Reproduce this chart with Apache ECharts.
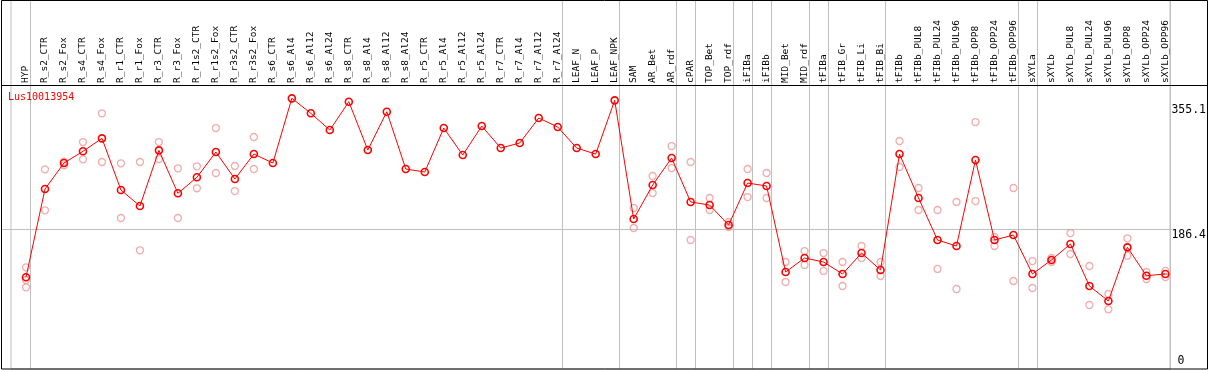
<!DOCTYPE html>
<html><head><meta charset="utf-8">
<script src="https://cdn.jsdelivr.net/npm/echarts@6/dist/echarts.min.js"></script>
<style>html,body{margin:0;padding:0;background:#fff}#c{width:1209px;height:370px}</style>
</head><body><div id="c"></div>
<script>
const geneName = 'Lus10013954';
const categories = ['HYP','R_s2_CTR','R_s2_Fox','R_s4_CTR','R_s4_Fox','R_r1_CTR','R_r1_Fox','R_r3_CTR','R_r3_Fox','R_r1s2_CTR','R_r1s2_Fox','R_r3s2_CTR','R_r3s2_Fox','R_s6_CTR','R_s6_Al4','R_s6_Al12','R_s6_Al24','R_s8_CTR','R_s8_Al4','R_s8_Al12','R_s8_Al24','R_r5_CTR','R_r5_Al4','R_r5_Al12','R_r5_Al24','R_r7_CTR','R_r7_Al4','R_r7_Al12','R_r7_Al24','LEAF_N','LEAF_P','LEAF_NPK','SAM','AR_Bet','AR_rdf','cPAR','TOP_Bet','TOP_rdf','iFIBa','iFIBb','MID_Bet','MID_rdf','tFIBa','tFIB_Gr','tFIB_Li','tFIB_Bi','tFIBb','tFIBb_PUL8','tFIBb_PUL24','tFIBb_PUL96','tFIBb_OPP8','tFIBb_OPP24','tFIBb_OPP96','sXYLa','sXYLb','sXYLb_PUL8','sXYLb_PUL24','sXYLb_PUL96','sXYLb_OPP8','sXYLb_OPP24','sXYLb_OPP96'];
const groupSizes = [1, 28, 3, 3, 1, 2, 1, 1, 2, 1, 3, 7, 1, 7];
const meanValues = [121.1,240.2,275.3,291.1,308.6,238.9,217.3,292.4,234.4,256.0,290.1,253.7,287.4,275.3,362.6,342.4,319.8,358.0,292.8,344.5,267.2,263.2,322.5,286.1,325.2,295.5,302.3,336.0,323.9,295.5,287.4,359.9,199.7,245.6,282.1,222.7,218.6,191.6,248.3,244.3,128.2,147.1,141.7,125.5,153.8,130.9,287.4,228.1,171.4,163.3,279.4,171.4,178.1,125.5,144.4,166.0,109.3,89.1,161.5,123.2,125.5];
const replicateValues = [
  [134.5,117.4,107.6],[266.8,211.5],[277.1,272.2],[303.6,280.3],[342.4,276.7],
  [274.9,201.1],[276.7,157.5],[303.6,280.7],[268.2,201.1],[270.9,241.2],
  [322.5,261.8],[271.3,237.5],[310.4,267.2],[],[],[],[],[],[],[],[],[],[],[],[],[],[],[],[],[],[],[],
  [214.6,187.6],[257.8,234.8],[298.2,268.5],[276.7,171.4],[228.1,211.9],[195.7,188.9],
  [267.2,229.4],[261.8,228.1],[141.7,114.7],[156.5,137.7],[153.8,129.6],[141.7,109.3],
  [163.3,147.1],[141.7,122.8],[305.0,269.9],[241.6,211.9],[211.9,132.3],[222.7,105.3],
  [330.6,224.0],[175.4,163.3],[241.6,116.1],[143.0,106.6],[147.1,141.7],[180.8,152.5],
  [136.3,83.7],[98.5,77.9],[173.7,150.2],[128.2,118.8],[129.6,121.5]
];
const yLabelValues = [186.4, 355.1];
const yZeroLabel = [0];
const yRefLine = [186.4];
const yMin = -2.7, yMax = 380.6;

const groupStarts = [];
groupSizes.reduce((acc, n) => { groupStarts.push(acc); return acc + n; }, 0);

const repData = [];
replicateValues.forEach((vals, i) => vals.forEach(v => repData.push([categories[i], v])));

const mono = 'DejaVu Sans Mono';
const chart = echarts.init(document.getElementById('c'), null, {renderer: 'canvas'});
chart.setOption({
  animation: false,
  backgroundColor: '#fff',
  title: {
    text: geneName, left: 8, top: 92, padding: 0,
    textStyle: {color: '#ff0000', fontSize: 10, fontFamily: mono, fontWeight: 'normal'}
  },
  grid: [
    {left: 11, top: 0, width: 1159, height: 369, show: true, borderColor: '#c0c0c0', borderWidth: 1, backgroundColor: 'transparent'},
    {left: 16.5, top: 85, width: 1159, height: 284},
    {left: 1, top: 85, width: 1171, height: 284}
  ],
  xAxis: [
    {gridIndex: 0, type: 'category', data: categories, boundaryGap: true,
     axisLine: {show: false}, axisTick: {show: false}, axisLabel: {show: false},
     splitLine: {show: true, interval: (i) => groupStarts.indexOf(i) > 0, lineStyle: {color: '#c0c0c0', width: 1}}},
    {gridIndex: 1, type: 'category', position: 'top', data: categories, boundaryGap: true,
     axisLine: {show: false}, axisTick: {show: false}, splitLine: {show: false},
     axisLabel: {interval: 0, rotate: 90, margin: 2, fontFamily: mono, fontSize: 9.5, color: '#000'}},
    {gridIndex: 2, type: 'value', show: false, min: 0, max: 1}
  ],
  yAxis: [
    {gridIndex: 0, type: 'value', show: false},
    {gridIndex: 1, type: 'value', position: 'right', min: yMin, max: yMax,
     axisLine: {show: false}, splitLine: {show: false},
     axisTick: {show: false, customValues: yLabelValues},
     axisLabel: {customValues: yLabelValues, verticalAlign: 'top', align: 'left', margin: -3.5,
       fontFamily: mono, fontSize: 11.5, color: '#000'}},
    {gridIndex: 1, type: 'value', position: 'right', min: yMin, max: yMax,
     axisLine: {show: false}, splitLine: {show: false},
     axisTick: {show: false, customValues: yZeroLabel},
     axisLabel: {customValues: yZeroLabel, verticalAlign: 'bottom', align: 'left', margin: 2.5,
       fontFamily: mono, fontSize: 11.5, color: '#000'}},
    {gridIndex: 2, type: 'value', min: yMin, max: yMax,
     axisLine: {show: false}, axisLabel: {show: false},
     axisTick: {show: false, customValues: yRefLine},
     splitLine: {show: true, lineStyle: {color: '#c0c0c0', width: 1}}}
  ],
  series: [
    {name: geneName + ' replicates', type: 'scatter', xAxisIndex: 1, yAxisIndex: 1, data: repData,
     symbol: 'circle', symbolSize: 7, z: 3,
     itemStyle: {color: 'transparent', borderColor: '#ec9898', borderWidth: 1.3}},
    {name: geneName, type: 'line', xAxisIndex: 1, yAxisIndex: 1, data: meanValues,
     symbol: 'circle', symbolSize: 7, showAllSymbol: true, z: 4,
     lineStyle: {color: '#ff0000', width: 1},
     itemStyle: {color: 'transparent', borderColor: '#ff0000', borderWidth: 1.6}}
  ],
  graphic: [
    {type: 'rect', z: 100, silent: true, shape: {x: 1.5, y: 0.5, width: 1206, height: 368.5},
     style: {fill: 'none', stroke: '#000', lineWidth: 1}},
    {type: 'line', z: 100, silent: true, shape: {x1: 1, y1: 85.5, x2: 1207, y2: 85.5},
     style: {stroke: '#000', lineWidth: 1}}
  ]
});
</script></body></html>
